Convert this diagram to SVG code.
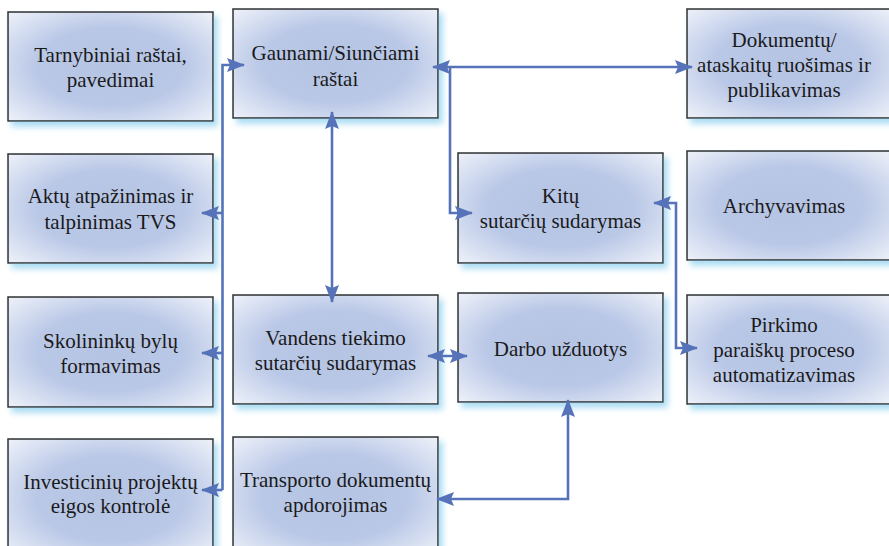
<svg xmlns="http://www.w3.org/2000/svg" width="889" height="546" viewBox="0 0 889 546">
<defs>
<radialGradient id="g" cx="0.5" cy="0.5" r="0.72">
<stop offset="0" stop-color="#b6c4e4"/>
<stop offset="0.5" stop-color="#bac8e7"/>
<stop offset="1" stop-color="#f0f3fa"/>
</radialGradient>
<filter id="sh" x="-10%" y="-10%" width="125%" height="130%">
<feGaussianBlur in="SourceAlpha" stdDeviation="3"/>
<feOffset dx="4" dy="5" result="b"/>
<feFlood flood-color="#a9dcf3"/>
<feComposite in2="b" operator="in"/>
<feMerge><feMergeNode/><feMergeNode in="SourceGraphic"/></feMerge>
</filter>
<marker id="ah" viewBox="0 0 18 14" refX="17" refY="7" markerWidth="18" markerHeight="14" markerUnits="userSpaceOnUse" orient="auto-start-reverse">
<path d="M0,0 L18,7 L0,14 L3,7 Z" fill="#5673b9"/>
</marker>
</defs>
<style>
.box rect{fill:url(#g);stroke:#2e2e2e;stroke-width:1.5;filter:url(#sh)}
.box text{font-size:21px;fill:#1a1a1a;text-anchor:middle}
.c path{fill:none;stroke:#5673b9;stroke-width:2.6;stroke-linejoin:miter}
</style>
<g font-family="Liberation Serif, serif">
<g id="n1" class="box"><rect x="8" y="12" width="205" height="109"/><text x="110.5" y="62">Tarnybiniai raštai,</text><text x="110.5" y="87">pavedimai</text></g>
<g id="n2" class="box"><rect x="233" y="9" width="205" height="109"/><text x="335.5" y="60">Gaunami/Siunčiami</text><text x="335.5" y="86">raštai</text></g>
<g id="n3" class="box"><rect x="687" y="9" width="205" height="109"/><text x="784" y="47">Dokumentų/</text><text x="784" y="72">ataskaitų ruošimas ir</text><text x="784" y="97">publikavimas</text></g>
<g id="n4" class="box"><rect x="8" y="154" width="205" height="109"/><text x="110.5" y="203">Aktų atpažinimas ir</text><text x="110.5" y="229">talpinimas TVS</text></g>
<g id="n5" class="box"><rect x="458" y="153" width="205" height="110"/><text x="560.5" y="203">Kitų</text><text x="560.5" y="228">sutarčių sudarymas</text></g>
<g id="n6" class="box"><rect x="687" y="151" width="205" height="109"/><text x="784" y="213">Archyvavimas</text></g>
<g id="n7" class="box"><rect x="8" y="297" width="205" height="110"/><text x="110.5" y="348">Skolininkų bylų</text><text x="110.5" y="373">formavimas</text></g>
<g id="n8" class="box"><rect x="233" y="295" width="205" height="109"/><text x="335.5" y="345">Vandens tiekimo</text><text x="335.5" y="370">sutarčių sudarymas</text></g>
<g id="n9" class="box"><rect x="458" y="293" width="205" height="109"/><text x="560.5" y="356">Darbo užduotys</text></g>
<g id="n10" class="box"><rect x="687" y="295" width="205" height="109"/><text x="784" y="332">Pirkimo</text><text x="784" y="357">paraiškų proceso</text><text x="784" y="382">automatizavimas</text></g>
<g id="n11" class="box"><rect x="8" y="439" width="205" height="120"/><text x="110.5" y="489">Investicinių projektų</text><text x="110.5" y="513">eigos kontrolė</text></g>
<g id="n12" class="box"><rect x="233" y="437" width="205" height="120"/><text x="335.5" y="487">Transporto dokumentų</text><text x="335.5" y="512">apdorojimas</text></g>
</g>
<g id="connectors" class="c">
<path d="M222.5,490 L222.5,65 L244,65" marker-end="url(#ah)"/>
<path d="M222.5,213 L202,213" marker-end="url(#ah)"/>
<path d="M222.5,353 L202,353" marker-end="url(#ah)"/>
<path d="M222.5,490 L202,490" marker-end="url(#ah)"/>
<path d="M332,112 L332,302" marker-start="url(#ah)" marker-end="url(#ah)"/>
<path d="M433,67 L692,67" marker-start="url(#ah)" marker-end="url(#ah)"/>
<path d="M450,67 L450,213 L472,213" marker-end="url(#ah)"/>
<path d="M654,203 L676,203 L676,348 L697,348" marker-start="url(#ah)" marker-end="url(#ah)"/>
<path d="M428,356 L467,356" marker-start="url(#ah)" marker-end="url(#ah)"/>
<path d="M568,400 L568,499 L437,499" marker-start="url(#ah)" marker-end="url(#ah)"/>
</g>
</svg>
